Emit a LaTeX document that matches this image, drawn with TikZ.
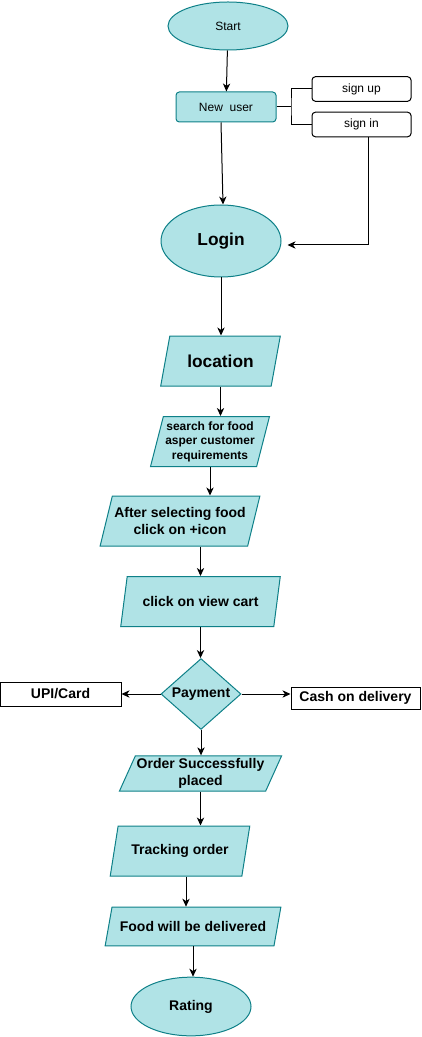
\documentclass[tikz,border=0pt]{standalone}
\usepackage{fontspec}
\setmainfont{Liberation Sans}
\usepackage{xcolor}
\usepackage{tikz}
\usetikzlibrary{shapes,arrows.meta,positioning,calc,shadows}

\definecolor{flowfill}{HTML}{B0E3E6}
\definecolor{flowline}{HTML}{0E8088}

\begin{document}
\begin{tikzpicture}[
    x=0.75pt, y=-0.75pt,
    font=\fontsize{9}{10.8}\selectfont,
    bigbold/.style={font=\bfseries\fontsize{13}{15.6}\selectfont},
    midbold/.style={font=\bfseries\fontsize{10.5}{12.75}\selectfont},
    terminal/.style={ellipse, draw=flowline, fill=flowfill, line width=0.75pt, minimum width=90pt, inner sep=0pt},
    process/.style={rectangle, draw=flowline, fill=flowfill, line width=0.75pt, rounded corners=2.5pt, minimum width=75pt, minimum height=22.5pt},
    option/.style={rectangle, draw=black, fill=white, line width=0.75pt, rounded corners=2.5pt, minimum width=74.25pt, minimum height=18.4pt},
    choice/.style={rectangle, draw=black, fill=white, line width=0.75pt, minimum height=18pt, midbold},
    io/.style={trapezium, trapezium left angle=68, trapezium right angle=112, trapezium stretches=true,
               draw=flowline, fill=flowfill, line width=0.75pt, minimum height=37.5pt, inner sep=1pt, align=center, midbold},
    flat/.style={trapezium left angle=64, trapezium right angle=116},
    steep/.style={trapezium left angle=73, trapezium right angle=107},
    decision/.style={diamond, draw=flowline, fill=flowfill, line width=0.75pt, minimum width=60pt, minimum height=48pt, inner sep=0pt, midbold},
    line/.style={draw=black, line width=0.75pt},
    arrow/.style={line, -{Stealth[length=6pt, width=5.5pt, inset=1.8pt]}}
]
    \useasboundingbox (0,0) rectangle (421,1037);

    % Start and account part
    \node[terminal, minimum height=36pt]           (start)   at (228,26)     {Start};
    \node[process]                                  (newuser) at (226,107)    {New\ \ user};
    \node[option]                                   (signup)  at (361.5,89)   {sign up};
    \node[option]                                   (signin)  at (361.5,124.5){sign in};
    \node[terminal, minimum height=54pt, bigbold]   (login)   at (221,241)    {Login};

    % Ordering steps
    \node[io, minimum width=90pt, bigbold]          (location) at (220.5,361)  {location};
    \node[io, steep, minimum width=90pt, inner sep=0pt, font=\bfseries\fontsize{9}{10.9}\selectfont]
                                                    (search)   at (210,441.5)  {search for food\\asper customer\\requirements};
    \node[io, minimum width=120pt]                  (select)   at (180,521)    {After selecting food\\click on +icon};
    \node[io, minimum width=120pt]                  (cart)     at (200.5,601.5){click on view cart};
    \node[decision]                                 (payment)  at (201,694)    {Payment};
    \node[choice, minimum width=90.75pt]            (upi)      at (60.5,694)   {UPI/Card};
    \node[choice, minimum width=96.75pt, minimum height=16.5pt,
          drop shadow={shadow xshift=0.9pt, shadow yshift=-0.9pt, fill=gray!70, opacity=1}]
                                                    (cash)     at (355.5,698)  {Cash on delivery};
    \node[io, flat, minimum width=112pt, minimum height=26.5pt]
                                                    (placed)   at (200.5,773.5){Order Successfully\\placed};
    \node[io, minimum width=105pt]                  (tracking) at (180,851)    {Tracking order};
    \node[io, flat, minimum width=132pt, minimum height=29pt]
                                                    (deliver)  at (193,926.5)  {Food will be delivered};
    \node[terminal, minimum height=44pt, midbold]   (rating)   at (191,1006.5) {Rating};

    % Account connectors
    \coordinate (fork) at (291,107);
    \draw[arrow] (start) -- (newuser);
    \draw[line]  (newuser.east) -- (fork);
    \draw[line]  (signup.west) -| (fork) |- (signin.west);
    \draw[arrow] ([xshift=-3.75pt]newuser.south) -- ([xshift=1.5pt]login.north);
    \draw[arrow] ([xshift=5.6pt]signin.south) |- ([xshift=4.5pt, yshift=-3pt]login.east);

    % Main flow
    \draw[arrow] (login.south) -- (login.south |- location.north);
    \draw[arrow] (location.south) -- (location.south |- search.north);
    \draw[arrow] (search.south) -- (search.south |- select.north);
    \draw[arrow] (cart.north |- select.south) -- (cart.north);
    \draw[arrow] (cart.south) -- (cart.south |- payment.north);
    \draw[arrow] (payment.west) -- (upi.east);
    \draw[arrow] (payment.east) -- (payment.east -| cash.west);
    \draw[arrow] (payment.south) -- (payment.south |- placed.north);
    \draw[arrow] (placed.south) -- (placed.south |- tracking.north);
    \draw[arrow] ([xshift=4.5pt]tracking.south) -- ([xshift=4.5pt]tracking.south |- deliver.north);
    \draw[arrow] (deliver.south) -- (deliver.south |- rating.north);

\end{tikzpicture}
\end{document}
